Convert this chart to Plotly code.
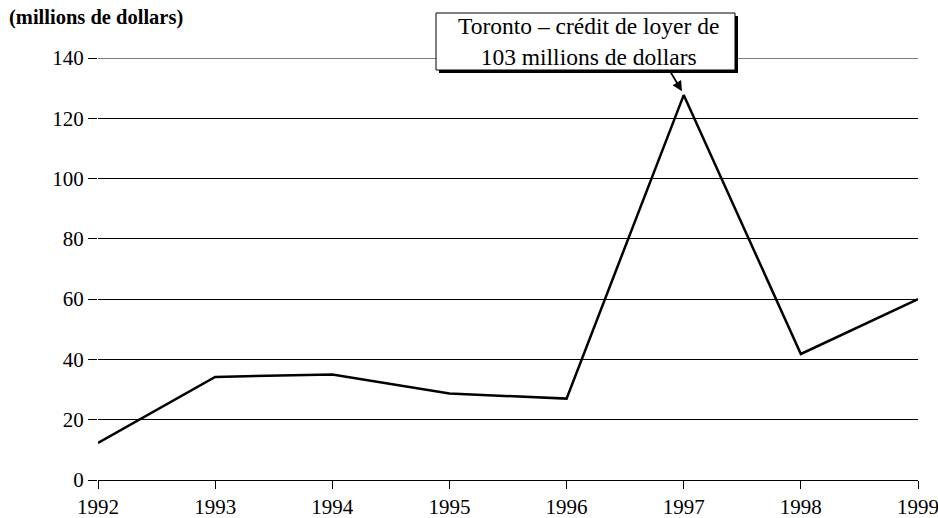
import plotly.graph_objects as go

years = [1992, 1993, 1994, 1995, 1996, 1997, 1998, 1999]
values = [12.3, 34.2, 35.0, 28.7, 27.0, 127.7, 41.8, 60.0]
y_ticks = [0, 20, 40, 60, 80, 100, 120, 140]
y_title = "(millions de dollars)"
note = "Toronto – crédit de loyer de<br>103 millions de dollars"

W, H = 938, 518
L, R, T, B = 98, 20, 58, 38
pw, ph = W - L - R, H - T - B

def px(x):
    return (x - L) / pw

def py(y):
    return (H - B - y) / ph

fig = go.Figure()
fig.add_trace(go.Scatter(x=years, y=values, mode="lines",
                         line=dict(color="black", width=2.5), hoverinfo="skip"))

font = "Liberation Serif"
fig.update_layout(
    width=W, height=H, autosize=False,
    margin=dict(l=L, r=R, t=T, b=B, autoexpand=False),
    paper_bgcolor="white", plot_bgcolor="white",
    showlegend=False,
    font=dict(family=font, size=21, color="black"),
    xaxis=dict(range=[1992, 1999], tickvals=years, ticktext=[str(y) for y in years],
               showgrid=False, zeroline=False, showline=True, linecolor="black",
               linewidth=1, ticks="outside", ticklen=8, tickcolor="black",
               automargin=False, ticklabeloverflow="allow",
               tickfont=dict(family=font, size=21)),
    yaxis=dict(range=[0, 140], tickvals=y_ticks, showgrid=True, gridcolor="black",
               gridwidth=1, zeroline=False, showline=False, ticks="outside",
               automargin=False, ticklabeloverflow="allow",
               ticklen=9, tickcolor="black", tickfont=dict(family=font, size=21)),
)

# top gridline (at range edge)
fig.add_shape(type="line", xref="paper", yref="y", x0=0, x1=1,
              y0=y_ticks[-1], y1=y_ticks[-1], line=dict(color="black", width=1),
              layer="below")

# title
fig.add_annotation(text="<b>" + y_title + "</b>", xref="paper", yref="paper",
                   x=px(7), y=py(18), xanchor="left", yanchor="middle",
                   showarrow=False, font=dict(family=font, size=20.5))

# callout box with shadow
fig.add_shape(type="rect", xref="paper", yref="paper",
              x0=px(439), x1=px(738), y0=py(73), y1=py(16),
              fillcolor="black", line=dict(width=0), layer="above")
fig.add_shape(type="rect", xref="paper", yref="paper",
              x0=px(436), x1=px(735), y0=py(70), y1=py(13),
              fillcolor="white", line=dict(color="black", width=1), layer="above")
fig.add_annotation(text=note, xref="paper", yref="paper",
                   x=px(588), y=py(41.5), xanchor="center", yanchor="middle",
                   showarrow=False, font=dict(family=font, size=23.5))
# arrow
fig.add_annotation(text="", x=1996.985, y=129.0, ax=-12, ay=-20,
                   showarrow=True, arrowhead=2, arrowsize=1.1, arrowwidth=1.8,
                   arrowcolor="black")

fig.write_html("out.html", config={"responsive": False, "displayModeBar": False},
               post_script="document.body.style.margin='0';document.body.style.overflow='hidden';")
